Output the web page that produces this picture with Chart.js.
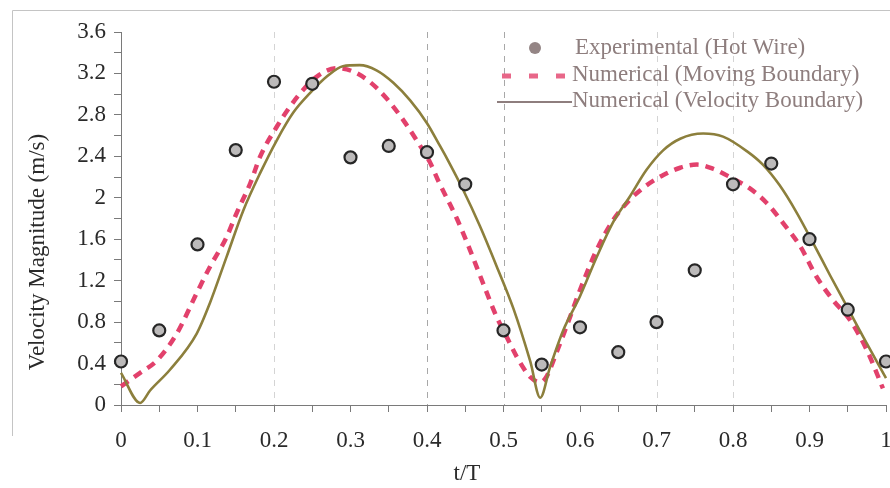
<!DOCTYPE html>
<html>
<head>
<meta charset="utf-8">
<script src="https://cdn.jsdelivr.net/npm/chart.js@4.4.0/dist/chart.umd.min.js"></script>
<style>
  html, body { margin: 0; padding: 0; background: #fff; }
  #wrap { width: 890px; height: 488px; }
</style>
</head>
<body>
<div id="wrap"><canvas id="velocityChart" width="890" height="488"></canvas></div>
<script>
// Hot wire measurements, one every 0.05 t/T
const expTime = [0, 0.05, 0.1, 0.15, 0.2, 0.25, 0.3, 0.35, 0.4, 0.45, 0.5,
                 0.55, 0.6, 0.65, 0.7, 0.75, 0.8, 0.85, 0.9, 0.95, 1];
const expSpeed = [0.42, 0.72, 1.55, 2.46, 3.12, 3.10, 2.39, 2.50, 2.44, 2.13, 0.72,
                  0.39, 0.75, 0.51, 0.80, 1.30, 2.13, 2.33, 1.60, 0.92, 0.42];

// Numerical, moving boundary
const movingTime = [0, 0.025, 0.047, 0.073, 0.099, 0.116, 0.138, 0.151, 0.169, 0.182,
                    0.204, 0.221, 0.238, 0.256, 0.282, 0.303, 0.325, 0.347, 0.369, 0.386,
                    0.404, 0.415, 0.439, 0.456, 0.473, 0.491, 0.504, 0.517, 0.535, 0.548,
                    0.556, 0.569, 0.587, 0.6, 0.622, 0.643, 0.665, 0.687, 0.709, 0.731,
                    0.753, 0.774, 0.796, 0.822, 0.844, 0.865, 0.888, 0.909, 0.931, 0.953,
                    0.975, 0.996];
const movingSpeed = [0.18, 0.31, 0.43, 0.69, 1.08, 1.33, 1.62, 1.85, 2.14, 2.40,
                     2.69, 2.88, 3.04, 3.17, 3.25, 3.22, 3.12, 2.96, 2.75, 2.56,
                     2.34, 2.16, 1.80, 1.50, 1.18, 0.85, 0.66, 0.47, 0.27, 0.22,
                     0.27, 0.50, 0.85, 1.11, 1.50, 1.78, 1.98, 2.12, 2.22, 2.29,
                     2.32, 2.28, 2.20, 2.09, 1.95, 1.76, 1.53, 1.24, 1.01, 0.82,
                     0.53, 0.16];

// Numerical, velocity boundary
const velocityTime = [0, 0.025, 0.038, 0.064, 0.099, 0.116, 0.138, 0.16, 0.182, 0.204,
                      0.225, 0.247, 0.269, 0.29, 0.312, 0.334, 0.356, 0.378, 0.4, 0.417,
                      0.426, 0.447, 0.469, 0.491, 0.513, 0.535, 0.548, 0.561, 0.578, 0.6,
                      0.622, 0.643, 0.665, 0.687, 0.709, 0.731, 0.761, 0.787, 0.818, 0.839,
                      0.861, 0.883, 0.905, 0.927, 0.949, 0.97, 1];
const velocitySpeed = [0.31, 0.02, 0.14, 0.34, 0.69, 0.98, 1.43, 1.88, 2.24, 2.56,
                       2.82, 3.01, 3.17, 3.27, 3.28, 3.23, 3.11, 2.94, 2.72, 2.50,
                       2.38, 2.08, 1.73, 1.34, 0.93, 0.42, 0.07, 0.37, 0.72, 1.05,
                       1.43, 1.76, 2.01, 2.27, 2.46, 2.57, 2.62, 2.59, 2.45, 2.32,
                       2.12, 1.86, 1.56, 1.25, 0.95, 0.66, 0.26];

const seriesLabels = ['Experimental (Hot Wire)', 'Numerical (Moving Boundary)', 'Numerical (Velocity Boundary)'];
const xTitle = 't/T';
const yTitle = 'Velocity Magnitude (m/s)';
const gridMarks = [0.2, 0.4, 0.5, 0.7, 0.8];

const PINK = '#e2416c';
const OLIVE = '#8c7f3c';
const INK = '#2a2a2a';

// pick the first serif face the machine actually has
function pickSerif() {
    const probe = document.createElement('canvas').getContext('2d');
    const sample = 'Velocity Magnitude 0.123 Wiljm';
    probe.font = '30px monospace';
    const base = probe.measureText(sample).width;
    const names = ['Liberation Serif', 'DejaVu Serif', 'Times New Roman', 'Tinos', 'Noto Serif', 'FreeSerif', 'Nimbus Roman'];
    for (const n of names) {
        probe.font = `30px "${n}", monospace`;
        if (Math.abs(probe.measureText(sample).width - base) > 0.5) return `"${n}", serif`;
    }
    return 'serif';
}
const SERIF = pickSerif();

function toXY(xs, ys) {
    return xs.map((x, i) => ({ x: x, y: ys[i] }));
}

// faint dashed verticals, the outer frame, axis titles and the legend block
const decorPlugin = {
    id: 'decor',
    beforeDatasetsDraw(chart) {
        const ctx = chart.ctx;
        const xs = chart.scales.x;
        const area = chart.chartArea;
        ctx.save();
        ctx.lineWidth = 1;
        ctx.setLineDash([6, 6]);
        gridMarks.forEach(v => {
            const px = Math.round(xs.getPixelForValue(v)) + 0.5;
            ctx.strokeStyle = (v === 0.4 || v === 0.5) ? '#a8a8a8' : '#d4d4d4';
            ctx.beginPath();
            ctx.moveTo(px, area.top);
            ctx.lineTo(px, area.bottom);
            ctx.stroke();
        });
        ctx.restore();
    },
    afterDraw(chart) {
        const ctx = chart.ctx;
        ctx.save();
        // frame
        ctx.strokeStyle = '#c4c4c4';
        ctx.lineWidth = 1;
        ctx.beginPath();
        ctx.moveTo(12.5, 436);
        ctx.lineTo(12.5, 10.5);
        ctx.lineTo(890, 10.5);
        ctx.stroke();

        // axis titles (sit off-centre, as in the printed figure)
        ctx.font = '23px ' + SERIF;
        ctx.fillStyle = INK;
        ctx.textAlign = 'center';
        ctx.textBaseline = 'middle';
        ctx.fillText(xTitle, 467, 474);
        ctx.save();
        ctx.translate(38, 252);
        ctx.rotate(-Math.PI / 2);
        ctx.fillText(yTitle, 0, 0);
        ctx.restore();

        // legend
        ctx.font = '23px ' + SERIF;
        ctx.textAlign = 'left';
        const rows = [48, 75, 101];

        ctx.beginPath();
        ctx.arc(535, rows[0], 6, 0, Math.PI * 2);
        ctx.fillStyle = '#948585';
        ctx.fill();
        ctx.fillStyle = '#8e7e7e';
        ctx.fillText(seriesLabels[0], 575, rows[0]);

        ctx.strokeStyle = PINK;
        ctx.globalAlpha = 0.8;
        ctx.lineWidth = 5;
        ctx.setLineDash([9, 18]);
        ctx.beginPath();
        ctx.moveTo(502, rows[1] + 1);
        ctx.lineTo(572, rows[1] + 1);
        ctx.stroke();
        ctx.globalAlpha = 1;
        ctx.setLineDash([]);
        ctx.fillText(seriesLabels[1], 572, rows[1]);

        ctx.strokeStyle = '#8e7e7e';
        ctx.lineWidth = 2;
        ctx.beginPath();
        ctx.moveTo(497, rows[2] + 1);
        ctx.lineTo(572, rows[2] + 1);
        ctx.stroke();
        ctx.fillText(seriesLabels[2], 572, rows[2]);
        ctx.restore();
    }
};

const ctx = document.getElementById('velocityChart').getContext('2d');
new Chart(ctx, {
    type: 'scatter',
    data: {
        datasets: [
            {
                label: seriesLabels[0],
                data: toXY(expTime, expSpeed),
                showLine: false,
                pointRadius: 6,
                pointBackgroundColor: '#bcbaba',
                pointBorderColor: '#262626',
                pointBorderWidth: 2.2,
                clip: false,
                order: 0
            },
            {
                label: seriesLabels[1],
                data: toXY(movingTime, movingSpeed),
                showLine: true,
                borderColor: PINK,
                borderWidth: 4.5,
                borderDash: [9, 7],
                pointRadius: 0,
                cubicInterpolationMode: 'monotone',
                clip: false,
                order: 2
            },
            {
                label: seriesLabels[2],
                data: toXY(velocityTime, velocitySpeed),
                showLine: true,
                borderColor: OLIVE,
                borderWidth: 2.6,
                pointRadius: 0,
                cubicInterpolationMode: 'monotone',
                clip: false,
                order: 1
            }
        ]
    },
    options: {
        responsive: false,
        animation: false,
        layout: { autoPadding: false, padding: { left: 14, right: 4, top: 32, bottom: 6 } },
        plugins: {
            legend: { display: false },
            tooltip: { enabled: false }
        },
        scales: {
            x: {
                type: 'linear',
                min: 0,
                max: 1,
                afterFit(scale) {
                    scale.height = 77;
                    scale.paddingLeft = 0;
                    scale.paddingRight = 0;
                },
                border: { color: '#7a7a7a', width: 1 },
                grid: { drawOnChartArea: false, tickLength: 7, tickColor: '#7a7a7a' },
                ticks: {
                    stepSize: 0.05,
                    autoSkip: false,
                    maxRotation: 0,
                    padding: 15,
                    color: INK,
                    font: { family: SERIF, size: 23 },
                    callback(v) {
                        const tenths = Math.round(v * 10);
                        return Math.abs(v * 10 - tenths) < 1e-6 ? String(tenths / 10) : '';
                    }
                },
                title: { display: false }
            },
            y: {
                min: 0,
                max: 3.6,
                afterFit(scale) {
                    scale.width = 107;
                    scale.paddingTop = 0;
                    scale.paddingBottom = 0;
                },
                border: { color: '#7a7a7a', width: 1 },
                grid: { drawOnChartArea: false, tickLength: 7, tickColor: '#7a7a7a' },
                ticks: {
                    stepSize: 0.2,
                    autoSkip: false,
                    padding: 8,
                    color: INK,
                    font: { family: SERIF, size: 23 },
                    callback(v) {
                        const fifths = Math.round(v * 5);
                        return fifths % 2 === 0 ? String(Math.round(v * 10) / 10) : '';
                    }
                },
                title: { display: false }
            }
        }
    },
    plugins: [decorPlugin]
});
</script>
</body>
</html>
